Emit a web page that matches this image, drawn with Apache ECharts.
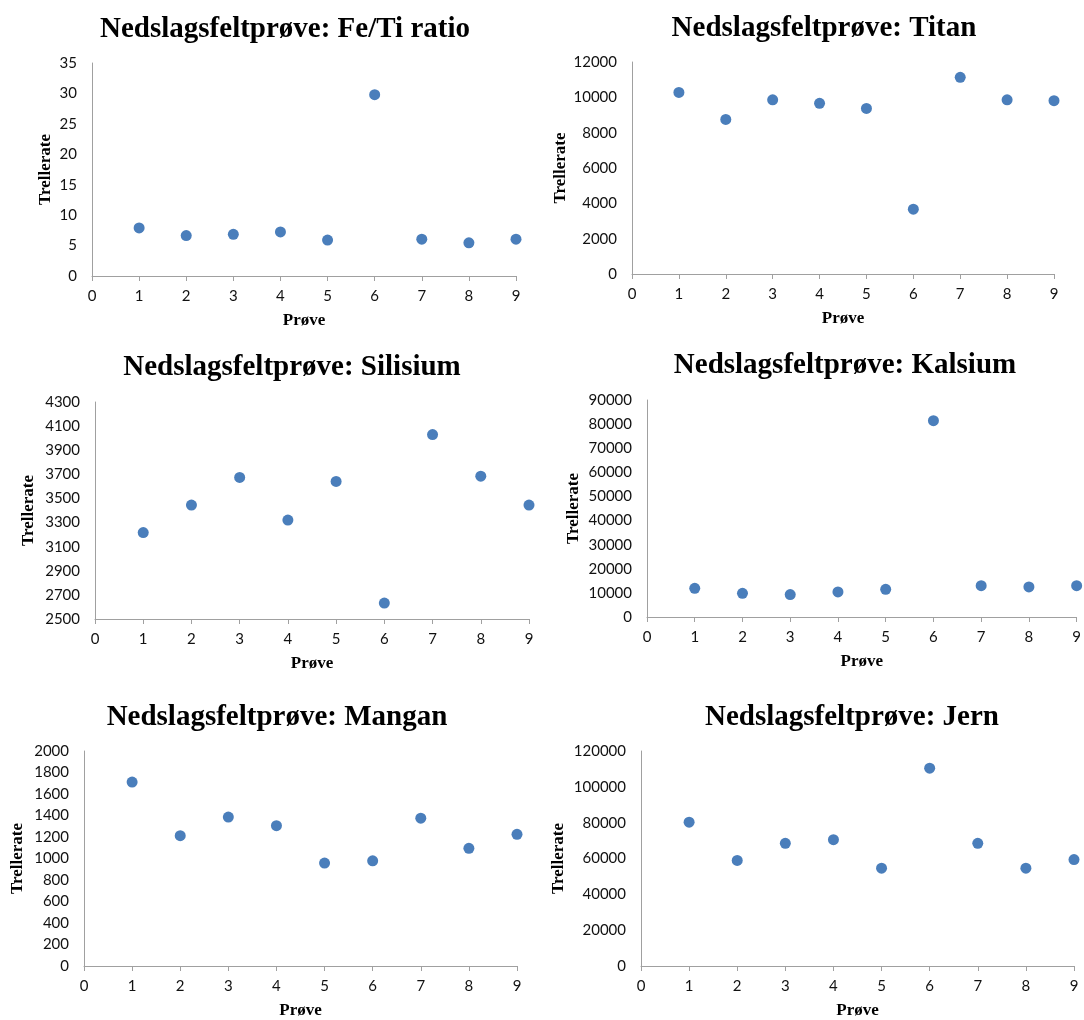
<!DOCTYPE html>
<html>
<head>
<meta charset="utf-8">
<script src="https://cdn.jsdelivr.net/npm/echarts@6/dist/echarts.min.js"></script>
<style>
html,body{margin:0;padding:0;background:#fff;}
#chart{width:1084px;height:1020px;}
</style>
</head>
<body>
<div id="chart"></div>
<script>
// ---- data ----
const samples = [1, 2, 3, 4, 5, 6, 7, 8, 9];
const feTiRatio = [7.9, 6.65, 6.85, 7.25, 5.9, 29.8, 6.05, 5.45, 6.05];
const titan = [10280, 8750, 9860, 9660, 9370, 3670, 11130, 9860, 9810];
const silisium = [3217, 3445, 3674, 3321, 3641, 2632, 4030, 3685, 3445];
const kalsium = [11900, 9830, 9280, 10390, 11490, 81400, 13000, 12460, 13000];
const mangan = [1711, 1212, 1385, 1305, 957, 978, 1375, 1095, 1225];
const jern = [80300, 58900, 68500, 70500, 54600, 110400, 68500, 54600, 59400];

const titles = [
  'Nedslagsfeltprøve: Fe/Ti ratio',
  'Nedslagsfeltprøve: Titan',
  'Nedslagsfeltprøve: Silisium',
  'Nedslagsfeltprøve: Kalsium',
  'Nedslagsfeltprøve: Mangan',
  'Nedslagsfeltprøve: Jern'
];
const yMins = [0, 0, 2500, 0, 0, 0];
const yMaxs = [35, 12000, 4300, 90000, 2000, 120000];
const yIntervals = [5, 2000, 200, 10000, 200, 20000];
const xMin = 0, xMax = 9, xInterval = 1;
const xAxisTitle = 'Prøve';
const yAxisTitle = 'Trellerate';

const seriesData = [feTiRatio, titan, silisium, kalsium, mangan, jern];

// ---- layout (pixels) ----
const grids = [
  {left: 92, top: 63, width: 424, height: 213},
  {left: 632, top: 62, width: 422, height: 212},
  {left: 95, top: 402, width: 434, height: 217},
  {left: 647, top: 400, width: 434, height: 217},
  {left: 84, top: 751, width: 433, height: 216},
  {left: 641, top: 751, width: 433, height: 216}
];
const titlePos = [
  {x: 285, y: 27}, {x: 824, y: 26},
  {x: 292, y: 365}, {x: 845, y: 363},
  {x: 277, y: 715}, {x: 852, y: 715}
];
const yNameGaps = [38, 63, 58, 65, 58, 74];

const TITLE_SIZE = 29;
const LABEL_FONT = 'Lato';
const SERIF = '"Liberation Serif", "Times New Roman", serif';
const axisColor = '#a0a0a0';

const option = {
  animation: false,
  backgroundColor: '#ffffff',
  title: titles.map((t, i) => ({
    text: t,
    left: titlePos[i].x,
    top: titlePos[i].y - TITLE_SIZE / 2 + 3,
    textAlign: 'center',
    padding: 0,
    textStyle: {fontFamily: SERIF, fontWeight: 'bold', fontSize: TITLE_SIZE, color: '#000'}
  })),
  grid: grids.map(g => ({left: g.left, top: g.top, width: g.width, height: g.height, containLabel: false})),
  xAxis: grids.map((g, i) => ({
    type: 'value', gridIndex: i, min: xMin, max: xMax, interval: xInterval,
    name: xAxisTitle, nameLocation: 'middle', nameGap: 36,
    nameTextStyle: {fontFamily: SERIF, fontWeight: 'bold', fontSize: 17, color: '#000'},
    axisLine: {show: true, lineStyle: {color: axisColor, width: 1}},
    axisTick: {show: true, length: 5, lineStyle: {color: axisColor}},
    splitLine: {show: false},
    axisLabel: {fontFamily: LABEL_FONT, fontSize: 15, color: '#111', margin: 13, showMaxLabel: true, showMinLabel: true,
      formatter: v => String(v)}
  })),
  yAxis: grids.map((g, i) => ({
    type: 'value', gridIndex: i, min: yMins[i], max: yMaxs[i], interval: yIntervals[i],
    name: yAxisTitle, nameLocation: 'middle', nameGap: yNameGaps[i], nameRotate: 90,
    nameTextStyle: {fontFamily: SERIF, fontWeight: 'bold', fontSize: 17, color: '#000'},
    axisLine: {show: true, lineStyle: {color: axisColor, width: 1}},
    axisTick: {show: false},
    splitLine: {show: false},
    axisLabel: {fontFamily: LABEL_FONT, fontSize: 15, color: '#111', margin: 15, showMaxLabel: true, showMinLabel: true,
      formatter: v => String(v)}
  })),
  series: seriesData.map((d, i) => ({
    type: 'scatter', xAxisIndex: i, yAxisIndex: i,
    symbol: 'circle', symbolSize: 11,
    itemStyle: {color: '#4a7ebb', opacity: 1},
    clip: false,
    data: samples.map((s, k) => [s, d[k]])
  }))
};

const chart = echarts.init(document.getElementById('chart'), null, {renderer: 'canvas'});
chart.setOption(option);
</script>
</body>
</html>
